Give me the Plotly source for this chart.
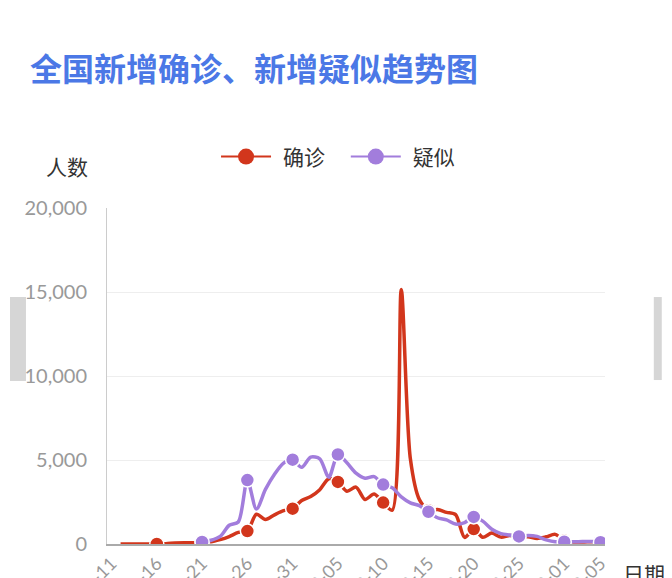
import pandas as pd
import plotly.graph_objects as go

# dates on the x axis (2020-01-11 .. 2020-03-05)
dates = list(pd.date_range("2020-01-11", "2020-03-05").strftime("%m-%d"))

# new confirmed per day
confirmed = [None, 0, 1, 0, 0, 4, 17, 59, 77, 77,
             149, 131, 259, 444, 688, 769, 1771, 1459, 1737, 1982,
             2102, 2590, 2829, 3235, 3887, 3694, 3143, 3385, 2652, 2973,
             2467, 2015, 15152, 5090, 2641, 2009, 2048, 1886, 1749, 394,
             889, 397, 648, 409, 508, 406, 433, 327, 427, 573,
             202, 125, 119, 139, 143]

# new suspected per day
suspected = [None, None, None, None, None, None, None, None, None, None,
             120, 220, 450, 1118, 1309, 3806, 2077, 3248, 4148, 4812,
             5019, 4562, 5173, 5072, 3971, 5328, 4833, 4214, 3916, 4008,
             3536, 3342, 2807, 2450, 2277, 1918, 1563, 1432, 1185, 1277,
             1614, 1361, 882, 620, 530, 452, 508, 452, 248, 132,
             141, 129, 143, 143, 102]

series_names = ["确诊", "疑似"]
colors = ["#d2361c", "#a27ddc"]

tick_labels = dates[::5] + [dates[-1]]

# symbols only on the labelled days
sizes = [14 if d in tick_labels else 0 for d in dates]
edges = [1.5 if d in tick_labels else 0 for d in dates]

cjk = "Noto Sans CJK SC"

# page body adds 8px, so the figure is 8px smaller than the window
W, H = 664, 570

fig = go.Figure()
for name, vals, col in zip(series_names, [confirmed, suspected], colors):
    fig.add_trace(go.Scatter(
        x=dates, y=vals, name=name, mode="lines+markers",
        line=dict(color=col, width=3.5, shape="spline", smoothing=0.8),
        marker=dict(size=sizes, color=col, opacity=1,
                    line=dict(color="white", width=edges)),
        connectgaps=False, showlegend=False,
    ))
    # legend entry (odd spaces give the gaps of the original legend)
    fig.add_trace(go.Scatter(
        x=[None], y=[None], name="\u2004" + name + "\u2002\u2005", mode="lines+markers",
        line=dict(color=col, width=2),
        marker=dict(size=16, color=col),
    ))

fig.update_layout(
    width=W, height=H,
    margin=dict(l=99, r=67, t=200, b=34),
    paper_bgcolor="white", plot_bgcolor="white",
    title=dict(text="全国新增确诊、新增疑似趋势图", x=22/W, xanchor="left",
               y=1-62/H, yanchor="middle",
               font=dict(family=cjk, size=32, color="#4b78e6", weight="bold")),
    legend=dict(orientation="h", x=0.480, xanchor="center", y=1.152, yanchor="middle",
                font=dict(family=cjk, size=21, color="#333"), itemwidth=50),
    showlegend=True,
)

fig.update_xaxes(
    type="category", categoryorder="array", categoryarray=dates,
    range=[-0.5, len(dates) - 0.5],
    tickvals=tick_labels, ticktext=tick_labels, tickangle=-45,
    tickfont=dict(family="Lato", size=18, color="#999"),
    showgrid=False, showline=True, linecolor="#aaa", linewidth=2,
    ticks="", automargin=False, zeroline=False,
)
fig.update_yaxes(
    range=[0, 20000], dtick=5000, tickformat=",",
    tickfont=dict(family="Lato", size=20, color="#999"),
    showgrid=True, gridcolor="#eee", gridwidth=1,
    showline=True, linecolor="#ccc", linewidth=1,
    ticks="", ticklabelstandoff=15, automargin=False, zeroline=False,
)

# axis names
fig.add_annotation(text="人数", xref="paper", yref="paper", x=-0.08, y=1.125,
                   xanchor="center", yanchor="middle",
                   showarrow=False, font=dict(family=cjk, size=21, color="#333"))
fig.add_annotation(text="日期", xref="paper", yref="paper", x=1.078, y=-0.086,
                   xanchor="center", yanchor="middle",
                   showarrow=False, font=dict(family=cjk, size=21, color="#333"))

# grey side tabs of the page
fig.add_shape(type="rect", xref="paper", yref="paper", x0=-0.1948, x1=-0.1627,
              y0=0.485, y1=0.735, fillcolor="#d6d6d6", line_width=0, layer="below")
fig.add_shape(type="rect", xref="paper", yref="paper", x0=1.098, x1=1.114,
              y0=0.488, y1=0.735, fillcolor="#d6d6d6", line_width=0, layer="below")

fig.write_html("out.html")
